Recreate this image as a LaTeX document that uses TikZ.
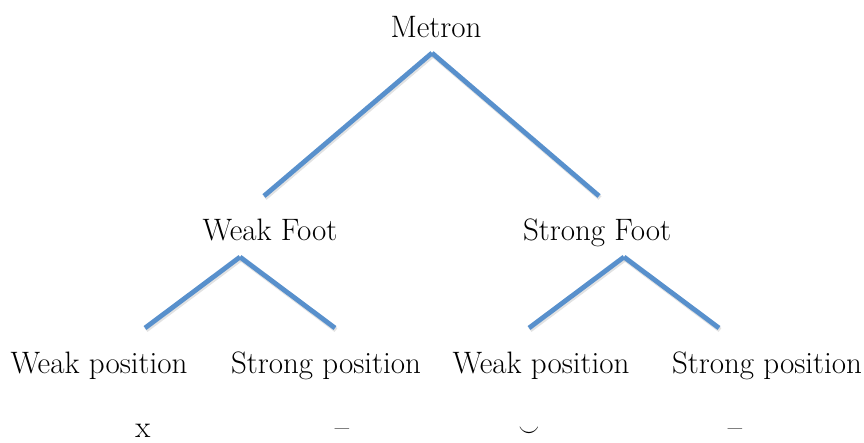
\documentclass[tikz,border=0pt]{standalone}
\begin{document}
\definecolor{branch}{RGB}{88,144,204}
\definecolor{shade}{RGB}{190,190,190}
\begin{tikzpicture}[x=1pt,y=-1pt,
  lbl/.style={anchor=base,inner sep=0pt,font=\fontsize{31}{37}\selectfont},
  edge/.style={draw=branch,line width=4.8pt},
  edgeshadow/.style={draw=shade,line width=4.8pt,opacity=0.45,transform canvas={xshift=1pt,yshift=-2pt}}]
\useasboundingbox (0,0) rectangle (864,442);
% labels
\node[lbl] (metron) at (436,37) {Metron};
\node[lbl] (wf) at (270,240) {Weak Foot};
\node[lbl] (sf) at (597,240) {Strong Foot};
\node[lbl] (wp1) at (99,373) {Weak position};
\node[lbl] (sp1) at (326,373) {Strong position};
\node[lbl] (wp2) at (541,373) {Weak position};
\node[lbl] (sp2) at (767,373) {Strong position};
\node[lbl] (s1) at (143,437) {x};
\node[lbl] (s2) at (342,437) {–};
\node[lbl] (s3) at (529,437) {\scalebox{0.85}[1.15]{$\smile$}};
\node[lbl] (s4) at (735,437) {–};
% branch points
\coordinate (a0) at (432,53);
\coordinate (a0l) at (264,196);
\coordinate (a0r) at (599,196);
\coordinate (a1) at (240,257);
\coordinate (a1l) at (145,328);
\coordinate (a1r) at (335,328);
\coordinate (a2) at (624,257);
\coordinate (a2l) at (529,328);
\coordinate (a2r) at (719,328);
% shadows
\foreach \p/\q in {a0/a0l,a0/a0r,a1/a1l,a1/a1r,a2/a2l,a2/a2r}
  \draw[edgeshadow] (\p) -- (\q);
% branches
\foreach \p/\q in {a0/a0l,a0/a0r,a1/a1l,a1/a1r,a2/a2l,a2/a2r}
  \draw[edge] (\p) -- (\q);
\end{tikzpicture}
\end{document}
